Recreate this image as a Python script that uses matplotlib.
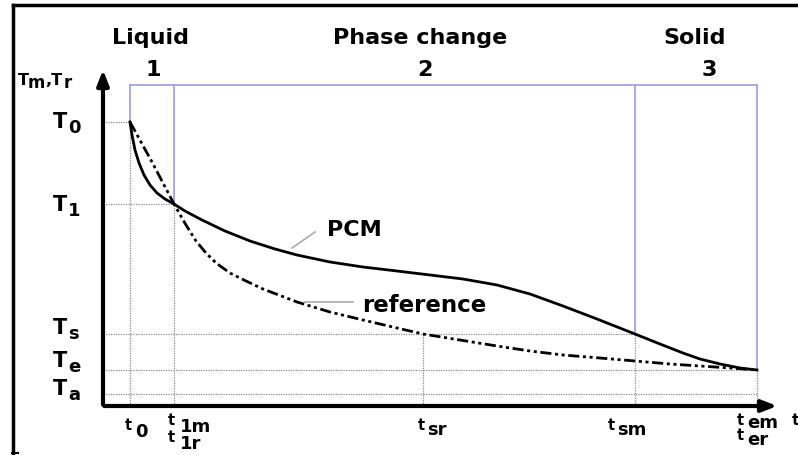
import matplotlib
matplotlib.use("Agg")
import matplotlib.pyplot as plt
from matplotlib.lines import Line2D

plt.rcParams['font.family'] = ['DejaVu Sans']
plt.rcParams['font.weight'] = 'bold'

# characteristic times and temperatures (arbitrary units)
t0, t1, tsr, tsm, tem = 2.7, 7.1, 32.0, 53.2, 65.4
T0, T1, Ts, Te, Ta = 28.4, 20.2, 7.2, 3.6, 1.2

# PCM cooling curve
pcm_t = [2.7, 2.9, 3.2, 3.6, 4.1, 4.7, 5.4, 6.2, 7.1, 8.2, 9.9, 12.2, 14.7, 17.2,
         19.4, 22.7, 26.0, 29.4, 32.7, 36.0, 39.4, 42.7, 46.0, 49.4, 53.2, 55.7,
         58.0, 59.7, 61.7, 63.7, 65.4]
pcm_T = [28.4, 27.1, 25.6, 24.3, 23.1, 22.1, 21.3, 20.7, 20.2, 19.5, 18.6, 17.5,
         16.5, 15.7, 15.1, 14.4, 13.9, 13.5, 13.1, 12.7, 12.1, 11.2, 10.0, 8.7,
         7.2, 6.2, 5.3, 4.7, 4.2, 3.8, 3.6]

# reference cooling curve
ref_t = [2.7, 4.9, 7.1, 8.3, 9.3, 10.3, 11.3, 12.7, 14.3, 16.0, 19.4, 22.7, 26.0,
         29.4, 32.0, 35.7, 39.4, 42.7, 46.0, 49.7, 53.2, 56.7, 59.7, 62.7, 65.4]
ref_T = [28.4, 24.4, 20.2, 18.1, 16.5, 15.3, 14.3, 13.3, 12.5, 11.7, 10.4, 9.4,
         8.6, 7.8, 7.2, 6.6, 6.0, 5.5, 5.1, 4.8, 4.5, 4.2, 4.0, 3.8, 3.6]

phases = ['Liquid', 'Phase change', 'Solid']
phase_nums = ['1', '2', '3']

fig = plt.figure(figsize=(7.98, 4.55), dpi=100)
ax = fig.add_axes([0, 0, 1, 1])
ax.set_xlim(-10.3, 69.5)
ax.set_ylim(-4.9, 40.6)
ax.axis('off')

blue = '#a4a4e2'
grey = '#8a8a8a'
top = 32.1


def sublabel(x, y, parts):
    # parts: (text, dx px, dy px downwards, fontsize)
    for txt, dx, dy, size in parts:
        ax.annotate(txt, xy=(x, y), xytext=(dx * 0.72, -dy * 0.72),
                    textcoords='offset points', ha='left', va='baseline',
                    fontsize=size, weight='bold')


# grey dotted guide lines
dot = dict(color=grey, lw=0.9, ls=(0, (1, 1)), zorder=1)
for T, tend in [(T0, t0), (T1, t1), (Ts, tsm), (Te, tem), (Ta, tem)]:
    ax.plot([0, tend], [T, T], **dot)
for t, T in [(t0, T0), (t1, T1), (tsr, Ts), (tsm, Ts), (tem, Te)]:
    ax.plot([t, t], [0, T], **dot)

# blue phase brackets
ax.plot([t0, tem], [top, top], color=blue, lw=1.3, zorder=2)
for t, T in [(t0, T0), (t1, T1), (tsm, Ts), (tem, Te)]:
    ax.plot([t, t], [T, top], color=blue, lw=1.3, zorder=2)

# curves
ax.plot(pcm_t, pcm_T, color='black', lw=2, zorder=4)
ax.plot(ref_t, ref_T, color='black', lw=2, ls=(0, (4, 1.3, 1.1, 1.3, 1.1, 1.3)), zorder=4)

# axes with arrows
arrow = dict(arrowstyle='-|>,head_width=0.35,head_length=0.9', lw=3, color='black')
ax.annotate('', xy=(0, 33.9), xytext=(0, -0.15), arrowprops=arrow)
ax.annotate('', xy=(67.7, 0), xytext=(-0.15, 0), arrowprops=arrow)

# phase labels
fs = 16
for name, num, xn, xd in zip(phases, phase_nums, [4.7, 31.7, 59.2], [5.0, 32.2, 60.6]):
    ax.text(xn, 36.8, name, ha='center', va='center', fontsize=fs, weight='bold')
    ax.text(xd, 33.6, num, ha='center', va='center', fontsize=fs, weight='bold')

# y labels
for T, sub, off in [(T0, '0', -0.6), (T1, '1', -0.7), (Ts, 's', 0.0),
                    (Te, 'e', 0.3), (Ta, 'a', -0.1)]:
    sublabel(-5.0, T + off, [('T', 0, 0, 15), (sub, 15, 5, 13)])
sublabel(-8.5, 32.1, [('T', 0, 0, 11.5), ('m', 10, 3, 12), (',T', 27, 0, 11.5),
                      ('r', 46, 3, 12)])

# x labels
sublabel(2.2, -2.4, [('t', 0, 0, 10.5), ('0', 10, 7, 13)])
sublabel(6.5, -1.9, [('t', 0, 0, 10.5), ('1m', 12, 7, 13)])
sublabel(6.5, -3.6, [('t', 0, 0, 10.5), ('1r', 12, 7, 13)])
sublabel(31.5, -2.4, [('t', 0, 0, 10.5), ('sr', 9, 5, 13)])
sublabel(50.5, -2.4, [('t', 0, 0, 10.5), ('sm', 9, 5, 13)])
sublabel(63.4, -1.9, [('t', 0, 0, 10.5), ('em', 10, 3, 13)])
sublabel(63.4, -3.4, [('t', 0, 0, 10.5), ('er', 10, 5, 13)])
sublabel(68.9, -1.9, [('t', 0, 0, 11)])

# curve labels with leader lines
ax.plot([18.9, 21.2], [15.8, 17.4], color='#aaaaaa', lw=1.2)
ax.text(22.4, 17.6, 'PCM', ha='left', va='center', fontsize=16, weight='bold')
ax.plot([20.2, 25.0], [10.4, 10.4], color='#aaaaaa', lw=1.2)
ax.text(25.9, 10.0, 'reference', ha='left', va='center', fontsize=16.5, weight='bold')

# outer frame remnants
fig.add_artist(Line2D([12.5 / 798, 1], [1 - 5 / 455, 1 - 5 / 455], color='black', lw=2.5))
fig.add_artist(Line2D([13 / 798, 13 / 798], [1 - 5 / 455, 2 / 455], color='black', lw=2.5))
fig.add_artist(Line2D([12 / 798, 18 / 798], [2 / 455, 2 / 455], color='black', lw=1.5))

fig.savefig('out.png', dpi=100)
